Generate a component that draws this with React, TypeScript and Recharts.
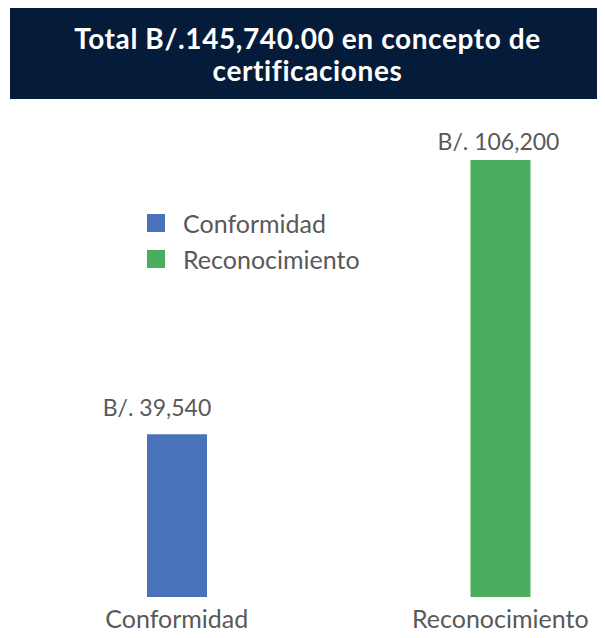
import { BarChart, Bar, XAxis, YAxis, Legend, LabelList } from 'recharts';

const categories = ['Conformidad', 'Reconocimiento'];
const conformidad = [39540, null];
const reconocimiento = [null, 106200];

const data = categories.map((name, i) => ({
  name,
  Conformidad: conformidad[i],
  Reconocimiento: reconocimiento[i],
}));

const FONT = 'Lato, "Noto Sans", sans-serif';
const GREY = '#595959';

const fmt = (v: number) => `B/. ${v.toLocaleString('en-US')}`;

const makeLabel = (dx: number, dy: number) => (props: any) => {
  const { x, y, width, value } = props;
  if (value == null) return null;
  return (
    <text x={x + width / 2 + dx} y={y - dy} textAnchor="middle" fill={GREY} fontSize={23} fontFamily={FONT}>
      {fmt(value)}
    </text>
  );
};

const renderTick = (props: any) => {
  const { x, payload } = props;
  return (
    <text x={x} y={628} textAnchor="middle" fill={GREY} fontSize={25} fontFamily={FONT}>
      {payload.value}
    </text>
  );
};

const renderLegend = (props: any) => (
  <div style={{ fontFamily: FONT }}>
    {props.payload.map((e: any) => (
      <div key={e.value} style={{ display: 'flex', alignItems: 'center', height: 36, color: GREY, fontSize: 25 }}>
        <span style={{ width: 18, height: 18, background: e.color, marginRight: 18, display: 'inline-block' }} />
        {e.value}
      </div>
    ))}
  </div>
);

export default function App() {
  return (
    <div style={{ position: 'relative', width: 605, height: 638, overflow: 'hidden', margin: -8, background: '#fff' }}>
      <div
        style={{
          position: 'absolute', left: 10, top: 8, width: 595, height: 91, background: '#041c3a',
          color: '#fff', fontFamily: FONT, fontWeight: 700, fontSize: 28, lineHeight: '32px', letterSpacing: 0.6,
          display: 'flex', alignItems: 'center', justifyContent: 'center', textAlign: 'center',
        }}
      >
        <div>Total B/.145,740.00 en concepto de<br />certificaciones</div>
      </div>
      <div style={{ position: 'absolute', left: 0, top: 0 }}>
        <BarChart width={700} height={638} data={data} margin={{ top: 160, right: 38, left: 15, bottom: 0 }}>
          <XAxis dataKey="name" height={41} tickSize={0} tickMargin={0} axisLine={false} tickLine={false} tick={renderTick} interval={0} />
          <YAxis hide domain={[0, 'dataMax']} />
          <Legend
            layout="vertical"
            verticalAlign="middle"
            align="center"
            content={renderLegend}
            wrapperStyle={{ position: 'absolute', left: 147, top: 205, width: 250 }}
          />
          <Bar dataKey="Conformidad" stackId="a" fill="#4a72ba" barSize={60} isAnimationActive={false}>
            <LabelList dataKey="Conformidad" content={makeLabel(-20, 18)} />
          </Bar>
          <Bar dataKey="Reconocimiento" stackId="a" fill="#4cad5e" barSize={60} isAnimationActive={false}>
            <LabelList dataKey="Reconocimiento" content={makeLabel(-2, 10)} />
          </Bar>
        </BarChart>
      </div>
    </div>
  );
}
